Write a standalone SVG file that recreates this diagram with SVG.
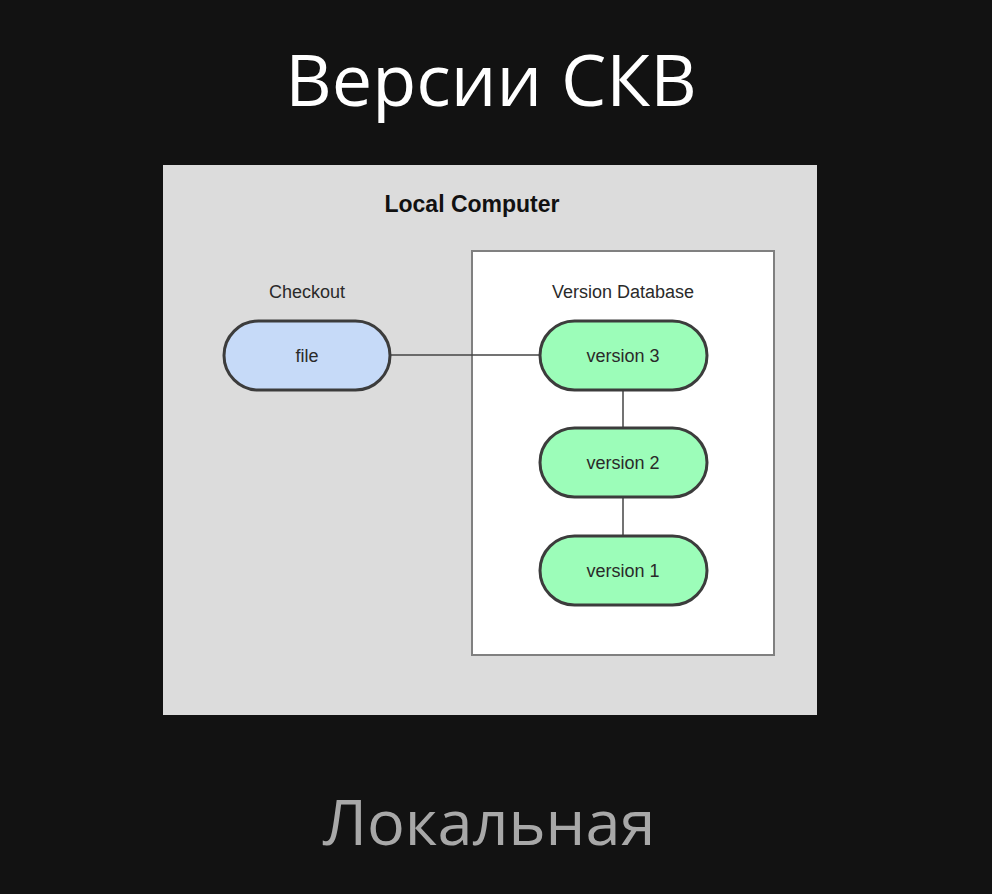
<svg xmlns="http://www.w3.org/2000/svg" width="992" height="894" viewBox="0 0 992 894">
<style>
.title{font-family:"Open Sans","Noto Sans",sans-serif;fill:#ffffff;font-size:72px;text-anchor:middle}
.sub{font-family:"Open Sans","Noto Sans",sans-serif;fill:#a8a8a8;font-size:63px;text-anchor:middle}
.lbl{font-family:"Liberation Sans",Arial,sans-serif;fill:#2a2a2a;font-size:18px;text-anchor:middle}
.bold{font-family:"Liberation Sans",Arial,sans-serif;fill:#111;font-size:23px;font-weight:bold;text-anchor:middle}
.pill{stroke:#3c3c3c;stroke-width:3}
.blue{fill:#c6daf8}
.green{fill:#9cfdb9}
.conn{stroke:#444;stroke-width:1.5;fill:none}
</style>
<rect x="0" y="0" width="992" height="894" fill="#121212"/>
<text class="title" x="491" y="106">Версии СКВ</text>
<g id="local-computer">
<rect x="163" y="165" width="654" height="550" fill="#dcdcdc"/>
<text class="bold" x="472" y="212">Local Computer</text>
</g>
<g id="version-database">
<rect x="472" y="251" width="302" height="404" fill="#ffffff" stroke="#808080" stroke-width="2"/>
<text class="lbl" x="623" y="298">Version Database</text>
</g>
<g id="connectors">
<line class="conn" x1="391" y1="355" x2="539" y2="355"/>
<line class="conn" x1="623" y1="391" x2="623" y2="427"/>
<line class="conn" x1="623" y1="497" x2="623" y2="535"/>
</g>
<g id="checkout">
<text class="lbl" x="307" y="298">Checkout</text>
</g>
<g id="file">
<rect class="pill blue" x="224" y="321" width="166" height="69" rx="34.5"/>
<text class="lbl" x="307" y="362">file</text>
</g>
<g id="version3">
<rect class="pill green" x="540" y="321" width="167" height="69" rx="34.5"/>
<text class="lbl" x="623" y="362">version 3</text>
</g>
<g id="version2">
<rect class="pill green" x="540" y="428" width="167" height="69" rx="34.5"/>
<text class="lbl" x="623" y="469">version 2</text>
</g>
<g id="version1">
<rect class="pill green" x="540" y="536" width="167" height="69" rx="34.5"/>
<text class="lbl" x="623" y="577">version 1</text>
</g>
<text class="sub" x="489" y="845">Локальная</text>
</svg>
